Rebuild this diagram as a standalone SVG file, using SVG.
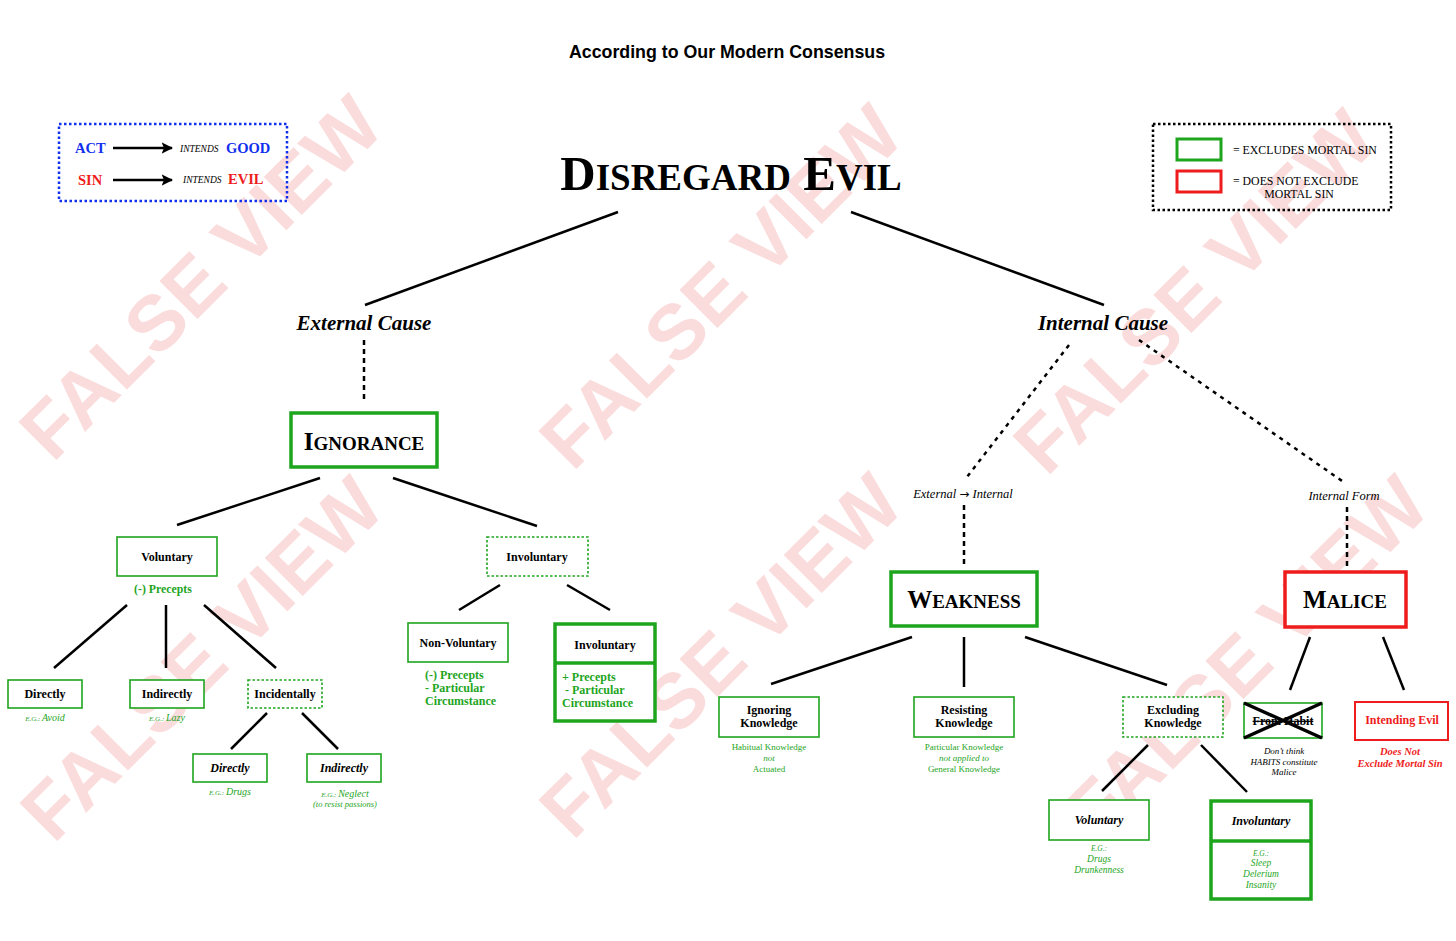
<svg xmlns="http://www.w3.org/2000/svg" width="1456" height="941" viewBox="0 0 1456 941">
<defs>
<marker id="arr" viewBox="0 0 10 10" refX="9" refY="5" markerWidth="5" markerHeight="5" orient="auto" markerUnits="strokeWidth">
<path d="M0,0 L10,5 L0,10 L2,5 z" fill="#000"/>
</marker>
<style>
.wm{font-family:"Liberation Sans",Arial,sans-serif;font-weight:bold;font-size:78px;fill:#fbdcdc;text-anchor:middle}
.t{font-family:"Liberation Serif","Times New Roman",serif;fill:#000}
.c{text-anchor:middle}
.b{font-weight:bold}
.i{font-style:italic}
.g{fill:#1ea51e}
.r{fill:#ee1c1c}
.bl{fill:#1030ee}
.lbl{font-size:12px;font-weight:bold}
.note{font-size:9px}
.box{fill:#fff;stroke:#1ea51e;stroke-width:1.6}
.boxd{fill:#fff;stroke:#1ea51e;stroke-width:1.6;stroke-dasharray:2.5 2}
.boxt{fill:#fff;stroke:#1ea51e;stroke-width:3.5}
.boxr{fill:#fff;stroke:#ee1c1c;stroke-width:3.5}
.line{stroke:#000;stroke-width:2.5;fill:none}
.dash{stroke:#000;stroke-width:2.5;fill:none;stroke-dasharray:5 4}
.dot{stroke:#000;stroke-width:2.5;fill:none;stroke-dasharray:4 5}
</style>
</defs>
<rect width="1456" height="941" fill="#fff"/>

<g id="watermarks">
<text class="wm" transform="translate(200,277) rotate(-45)" x="0" y="28">FALSE VIEW</text>
<text class="wm" transform="translate(201,658) rotate(-45)" x="0" y="28">FALSE VIEW</text>
<text class="wm" transform="translate(720,286) rotate(-45)" x="0" y="28">FALSE VIEW</text>
<text class="wm" transform="translate(720,655) rotate(-45)" x="0" y="28">FALSE VIEW</text>
<text class="wm" transform="translate(1194,291) rotate(-45)" x="0" y="28">FALSE VIEW</text>
<text class="wm" transform="translate(1246,657) rotate(-45)" x="0" y="28">FALSE VIEW</text>
</g>

<g id="title">
<text x="727" y="58" text-anchor="middle" font-family="Liberation Sans, Arial, sans-serif" font-weight="bold" font-size="17.8" fill="#000">According to Our Modern Consensus</text>
</g>

<g id="legend-left">
<rect x="59" y="124" width="228" height="77" fill="none" stroke="#1030ee" stroke-width="2.5" stroke-dasharray="2.5 2.5"/>
<text class="t b bl" x="75" y="153" font-size="14.5">ACT</text>
<line x1="113" y1="148" x2="172" y2="148" stroke="#000" stroke-width="2.3" marker-end="url(#arr)"/>
<text class="t i" x="180" y="152" font-size="9.5">INTENDS</text>
<text class="t b bl" x="226" y="153" font-size="14.5">GOOD</text>
<text class="t b r" x="78" y="185" font-size="14.5">SIN</text>
<line x1="113" y1="180" x2="172" y2="180" stroke="#000" stroke-width="2.3" marker-end="url(#arr)"/>
<text class="t i" x="183" y="183" font-size="9.5">INTENDS</text>
<text class="t b r" x="228" y="184" font-size="14.5">EVIL</text>
</g>

<g id="legend-right">
<rect x="1153" y="124" width="238" height="86" fill="none" stroke="#000" stroke-width="2.5" stroke-dasharray="2.5 2.5"/>
<rect x="1177" y="139" width="44" height="21" fill="#fff" stroke="#1ea51e" stroke-width="3"/>
<rect x="1177" y="171" width="44" height="21" fill="#fff" stroke="#ee1c1c" stroke-width="3"/>
<text class="t" x="1233" y="154" font-size="11.8">= EXCLUDES MORTAL SIN</text>
<text class="t" x="1233" y="185" font-size="11.8">= DOES NOT EXCLUDE</text>
<text class="t c" x="1299" y="198" font-size="11.8">MORTAL SIN</text>
</g>

<g id="connectors">
<line class="line" x1="618" y1="212" x2="365" y2="305"/>
<line class="line" x1="851" y1="212" x2="1104" y2="305"/>
<line class="dash" x1="364" y1="340" x2="364" y2="402"/>
<line class="line" x1="320" y1="478" x2="177" y2="525"/>
<line class="line" x1="393" y1="478" x2="537" y2="526"/>
<line class="line" x1="127" y1="605" x2="54" y2="668"/>
<line class="line" x1="166" y1="605" x2="166" y2="668"/>
<line class="line" x1="204" y1="605" x2="276" y2="668"/>
<line class="line" x1="267" y1="713" x2="231" y2="749"/>
<line class="line" x1="302" y1="713" x2="338" y2="749"/>
<line class="line" x1="500" y1="585" x2="459" y2="610"/>
<line class="line" x1="567" y1="585" x2="610" y2="610"/>
<line class="dot" x1="1069" y1="345" x2="967" y2="477"/>
<line class="dash" x1="964" y1="505" x2="964" y2="564"/>
<line class="dot" x1="1139" y1="340" x2="1345" y2="483"/>
<line class="dash" x1="1347" y1="507" x2="1347" y2="568"/>
<line class="line" x1="912" y1="637" x2="771" y2="684"/>
<line class="line" x1="964" y1="637" x2="964" y2="687"/>
<line class="line" x1="1025" y1="637" x2="1167" y2="685"/>
<line class="line" x1="1148" y1="745" x2="1102" y2="791"/>
<line class="line" x1="1201" y1="745" x2="1247" y2="792"/>
<line class="line" x1="1310" y1="637" x2="1290" y2="690"/>
<line class="line" x1="1383" y1="637" x2="1404" y2="690"/>
</g>

<g id="disregard-evil">
<text class="t c b" x="731" y="190"><tspan font-size="49">D</tspan><tspan font-size="37">ISREGARD</tspan><tspan font-size="49"> E</tspan><tspan font-size="37">VIL</tspan></text>
</g>

<g id="external-cause">
<text class="t c b i" x="364" y="330" font-size="21">External Cause</text>
</g>
<g id="internal-cause">
<text class="t c b i" x="1103" y="330" font-size="21">Internal Cause</text>
</g>

<g id="ignorance">
<rect class="boxt" x="291" y="413" width="146" height="54"/>
<text class="t c b" x="364" y="450"><tspan font-size="25">I</tspan><tspan font-size="19">GNORANCE</tspan></text>
</g>

<g id="voluntary">
<rect class="box" x="117" y="537" width="100" height="39"/>
<text class="t c lbl" x="167" y="561">Voluntary</text>
<text class="t c b g" x="163" y="593" font-size="11.8">(-) Precepts</text>
</g>

<g id="directly">
<rect class="box" x="8" y="680" width="74" height="28"/>
<text class="t c lbl" x="45" y="698">Directly</text>
<text class="t c i g" x="45" y="721"><tspan font-size="7">E.G.: </tspan><tspan font-size="10">Avoid</tspan></text>
</g>

<g id="indirectly">
<rect class="box" x="130" y="680" width="74" height="28"/>
<text class="t c lbl" x="167" y="698">Indirectly</text>
<text class="t c i g" x="167" y="721"><tspan font-size="7">E.G.: </tspan><tspan font-size="10">Lazy</tspan></text>
</g>

<g id="incidentally">
<rect class="boxd" x="248" y="680" width="74" height="28"/>
<text class="t c lbl" x="285" y="698">Incidentally</text>
</g>

<g id="inc-directly">
<rect class="box" x="193" y="754" width="74" height="28"/>
<text class="t c lbl i" x="230" y="772">Directly</text>
<text class="t c i g" x="230" y="795"><tspan font-size="7">E.G.: </tspan><tspan font-size="10">Drugs</tspan></text>
</g>

<g id="inc-indirectly">
<rect class="box" x="307" y="754" width="74" height="28"/>
<text class="t c lbl i" x="344" y="772">Indirectly</text>
<text class="t c i g" x="345" y="797"><tspan font-size="7">E.G.: </tspan><tspan font-size="10">Neglect</tspan></text>
<text class="t c i g" x="345" y="807" font-size="8.5">(to resist passions)</text>
</g>

<g id="involuntary-ign">
<rect class="boxd" x="487" y="537" width="101" height="39"/>
<text class="t c lbl" x="537" y="561">Involuntary</text>
</g>

<g id="non-voluntary">
<rect class="box" x="408" y="623" width="100" height="39"/>
<text class="t c lbl" x="458" y="647">Non-Voluntary</text>
<text class="t b g" x="425" y="679" font-size="12">(-) Precepts</text>
<text class="t b g" x="425" y="692" font-size="12">- Particular</text>
<text class="t b g" x="425" y="705" font-size="12">Circumstance</text>
</g>

<g id="involuntary-inner">
<rect class="boxt" x="555" y="624" width="100" height="97"/>
<line x1="555" y1="663" x2="655" y2="663" stroke="#1ea51e" stroke-width="3.5"/>
<text class="t c lbl" x="605" y="649">Involuntary</text>
<text class="t b g" x="562" y="681" font-size="12">+ Precepts</text>
<text class="t b g" x="565" y="694" font-size="12">- Particular</text>
<text class="t b g" x="562" y="707" font-size="12">Circumstance</text>
</g>

<g id="ext-int-label">
<text class="t c i" x="963" y="498" font-size="12.5">External <tspan font-family="DejaVu Sans, sans-serif" font-style="normal" font-size="12">→</tspan> Internal</text>
</g>
<g id="internal-form-label">
<text class="t c i" x="1344" y="500" font-size="12.5">Internal Form</text>
</g>

<g id="weakness">
<rect class="boxt" x="891" y="572" width="146" height="54"/>
<text class="t c b" x="964" y="608"><tspan font-size="25">W</tspan><tspan font-size="19">EAKNESS</tspan></text>
</g>

<g id="malice">
<rect class="boxr" x="1285" y="572" width="121" height="55"/>
<text class="t c b" x="1345" y="608"><tspan font-size="25">M</tspan><tspan font-size="19">ALICE</tspan></text>
</g>

<g id="ignoring-knowledge">
<rect class="box" x="719" y="697" width="100" height="40"/>
<text class="t c lbl" x="769" y="714">Ignoring</text>
<text class="t c lbl" x="769" y="727">Knowledge</text>
<text class="t c g note" x="769" y="750">Habitual Knowledge</text>
<text class="t c g note i" x="769" y="761">not</text>
<text class="t c g note" x="769" y="772">Actuated</text>
</g>

<g id="resisting-knowledge">
<rect class="box" x="914" y="697" width="100" height="40"/>
<text class="t c lbl" x="964" y="714">Resisting</text>
<text class="t c lbl" x="964" y="727">Knowledge</text>
<text class="t c g note" x="964" y="750">Particular Knowledge</text>
<text class="t c g note i" x="964" y="761">not applied to</text>
<text class="t c g note" x="964" y="772">General Knowledge</text>
</g>

<g id="excluding-knowledge">
<rect class="boxd" x="1123" y="697" width="100" height="40"/>
<text class="t c lbl" x="1173" y="714">Excluding</text>
<text class="t c lbl" x="1173" y="727">Knowledge</text>
</g>

<g id="excl-voluntary">
<rect class="box" x="1049" y="800" width="100" height="40"/>
<text class="t c lbl i" x="1099" y="824">Voluntary</text>
<text class="t c g i" x="1099" y="851" font-size="7.5">E.G.:</text>
<text class="t c g i" x="1099" y="862" font-size="9.5">Drugs</text>
<text class="t c g i" x="1099" y="873" font-size="9.5">Drunkenness</text>
</g>

<g id="excl-involuntary">
<rect class="boxt" x="1211" y="801" width="100" height="98"/>
<line x1="1211" y1="841" x2="1311" y2="841" stroke="#1ea51e" stroke-width="3.5"/>
<text class="t c lbl i" x="1261" y="825">Involuntary</text>
<text class="t c g i" x="1261" y="856" font-size="7.5">E.G.:</text>
<text class="t c g i" x="1261" y="866" font-size="9.5">Sleep</text>
<text class="t c g i" x="1261" y="877" font-size="9.5">Delerium</text>
<text class="t c g i" x="1261" y="888" font-size="9.5">Insanity</text>
</g>

<g id="from-habit">
<rect class="box" x="1244" y="703" width="78" height="35"/>
<text class="t c lbl" x="1283" y="725" text-decoration="line-through">From Habit</text>
<line x1="1244" y1="703" x2="1322" y2="738" stroke="#000" stroke-width="3.5"/>
<line x1="1244" y1="738" x2="1322" y2="703" stroke="#000" stroke-width="3.5"/>
<text class="t c i note" x="1284" y="754">Don’t think</text>
<text class="t c i note" x="1284" y="765">HABITS constitute</text>
<text class="t c i note" x="1284" y="775">Malice</text>
</g>

<g id="intending-evil">
<rect x="1355" y="702" width="93" height="38" fill="#fff" stroke="#ee1c1c" stroke-width="2"/>
<text class="t c lbl r" x="1402" y="724">Intending Evil</text>
<text class="t c b i r" x="1400" y="755" font-size="10.5">Does Not</text>
<text class="t c b i r" x="1400" y="767" font-size="10.5">Exclude Mortal Sin</text>
</g>
</svg>
